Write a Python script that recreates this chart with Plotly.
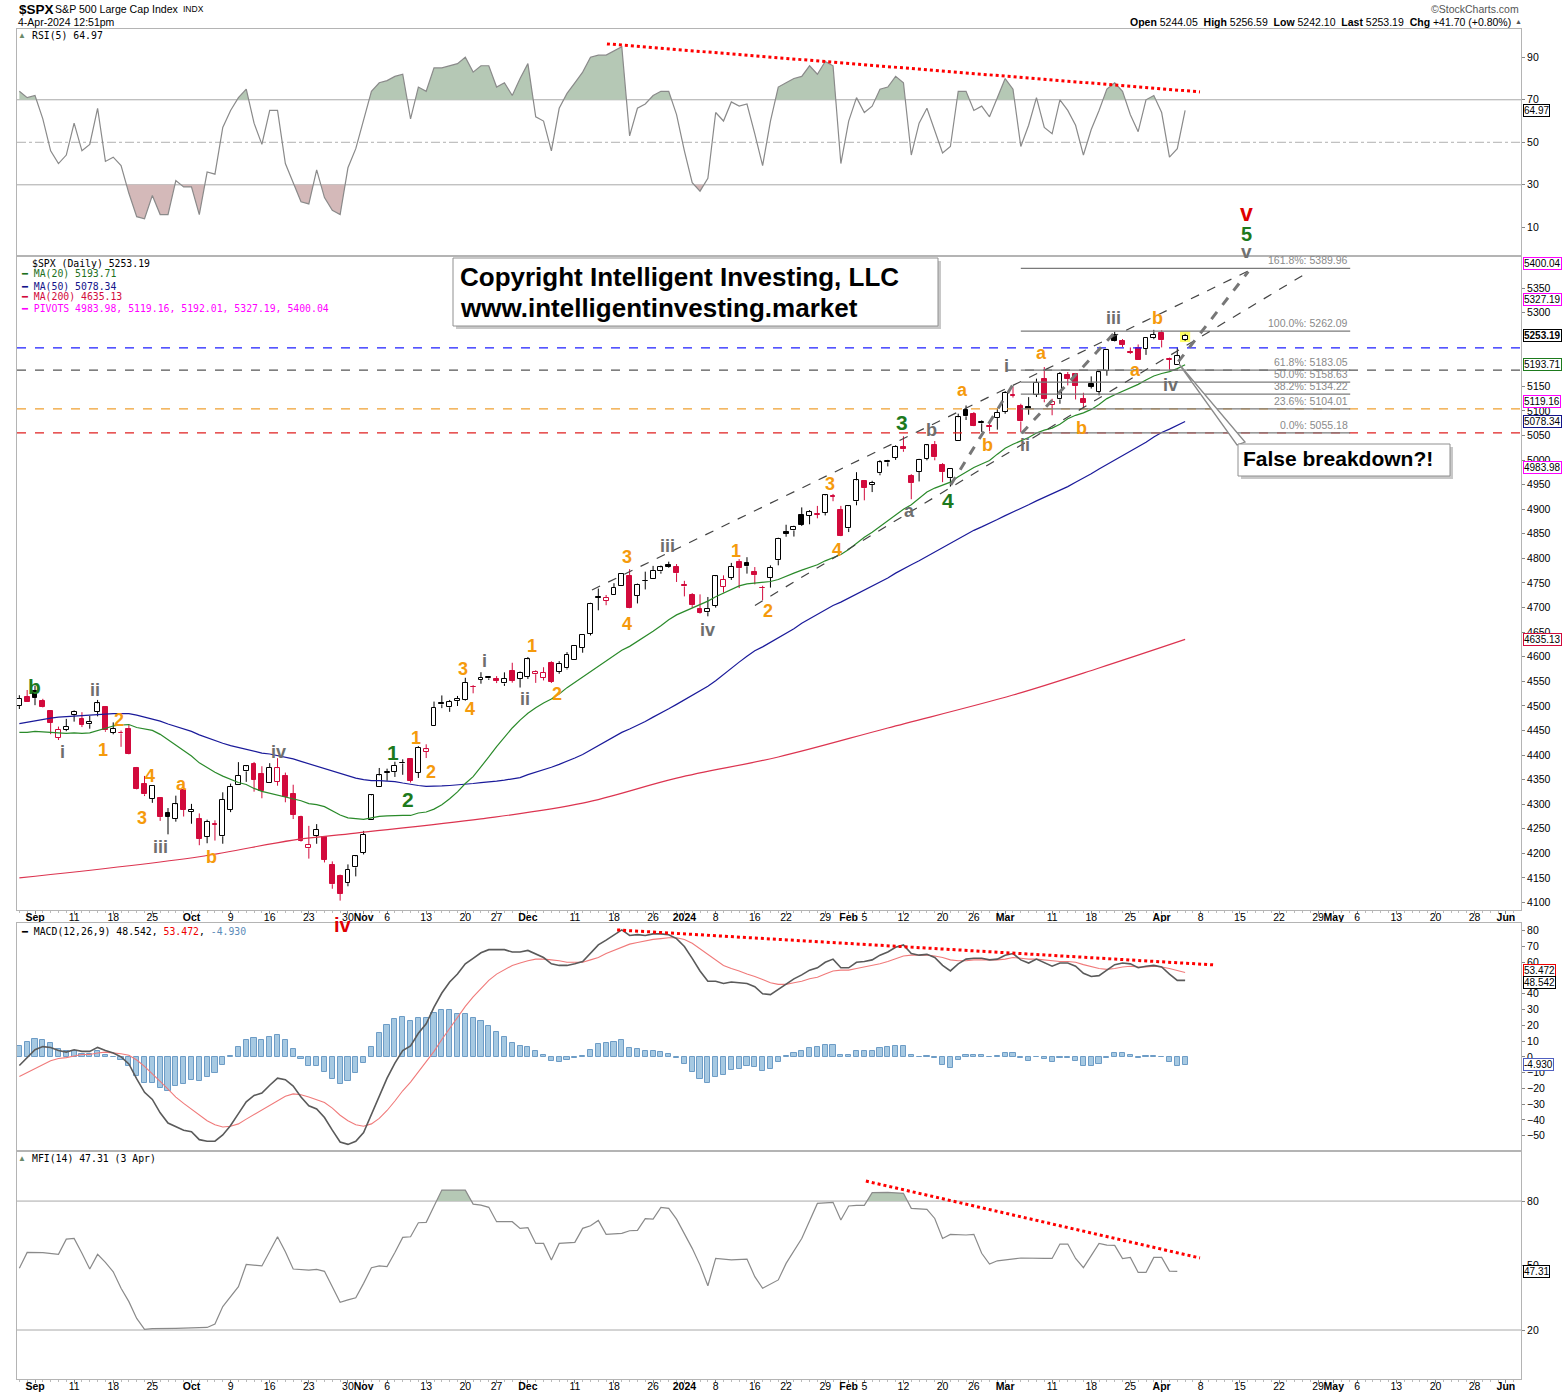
import pandas as pd
import plotly.graph_objects as go

W, H = 1565, 1396
HOLIDAYS = ["2023-09-04", "2023-11-23", "2023-12-25", "2024-01-01",
            "2024-01-15", "2024-02-19", "2024-03-29", "2024-05-27"]
CAL = [d.strftime("%Y-%m-%d") for d in pd.bdate_range("2023-08-30", "2024-06-14")
       if d.strftime("%Y-%m-%d") not in HOLIDAYS]

PREV_CLOSE = 4497.63
OPEN = [4500.34, 4517.01, 4530.60, 4510.06, 4490.35, 4434.55, 4451.30, 4480.98, 4473.27, 4462.65, 4487.78, 4497.98,
        4445.13, 4445.41, 4452.81, 4374.36, 4341.74, 4310.62, 4312.88, 4282.63, 4269.65, 4328.18,
        4284.52, 4269.75, 4233.83, 4259.31, 4234.79, 4289.02, 4339.75, 4366.59, 4380.94, 4360.49, 4342.37,
        4345.23, 4357.35, 4321.36, 4273.85, 4210.40, 4235.79, 4232.42, 4175.99, 4152.93, 4139.39, 4171.33,
        4201.27, 4268.26, 4334.23, 4364.27, 4366.21, 4384.37, 4391.41, 4364.15, 4406.66, 4458.97, 4505.30,
        4497.08, 4509.55, 4511.70, 4538.77, 4553.04, 4555.84, 4554.86, 4545.55, 4571.84, 4554.87,
        4559.43, 4564.37, 4557.25, 4586.23, 4568.84, 4576.20, 4593.39, 4618.30, 4646.20, 4721.04, 4714.23,
        4725.58, 4743.72, 4764.73, 4724.29, 4753.92, 4758.86, 4773.45, 4786.44, 4782.88,
        4745.20, 4725.07, 4697.42, 4690.57, 4703.70, 4741.93, 4759.94, 4792.13, 4791.18, 4772.35, 4739.13,
        4760.10, 4796.28, 4853.42, 4856.80, 4888.56, 4886.66, 4888.91, 4892.95, 4925.89, 4899.19,
        4861.11, 4916.06, 4957.19, 4950.16, 4973.05, 4995.16, 5004.17, 5026.83, 4967.94, 4976.44, 5003.14,
        5031.13, 4989.32, 4963.03, 5038.83, 5100.92, 5093.00, 5074.60, 5067.20, 5085.36,
        5098.51, 5130.99, 5110.52, 5108.03, 5132.38, 5164.46, 5111.96, 5123.31, 5173.49, 5175.14, 5123.31,
        5154.77, 5139.09, 5181.69, 5253.43, 5242.48, 5219.52, 5228.85, 5226.31, 5248.03,
        5257.97, 5204.29, 5194.37, 5244.05]
HIGH = [4521.65, 4532.26, 4541.25, 4514.29, 4490.35, 4457.81, 4473.53, 4490.77, 4487.11, 4479.39, 4511.99, 4497.98,
        4466.36, 4449.85, 4461.03, 4375.70, 4357.40, 4338.51, 4313.01, 4292.07, 4317.27, 4333.15,
        4300.58, 4281.15, 4268.50, 4267.13, 4324.10, 4341.73, 4385.46, 4378.64, 4385.85, 4377.10, 4383.33,
        4393.57, 4364.20, 4339.54, 4276.56, 4255.84, 4259.38, 4232.42, 4183.60, 4156.70, 4177.47, 4195.55,
        4245.64, 4319.72, 4373.62, 4372.21, 4386.26, 4391.20, 4393.40, 4418.03, 4421.76, 4508.67, 4521.17,
        4511.99, 4520.12, 4557.11, 4542.14, 4568.43, 4560.31, 4560.52, 4568.14, 4587.64, 4569.89,
        4599.39, 4572.37, 4578.56, 4590.74, 4590.92, 4609.23, 4623.71, 4643.93, 4709.69, 4738.57, 4725.53,
        4749.52, 4768.69, 4778.01, 4748.71, 4772.94, 4784.72, 4785.39, 4793.30, 4788.43,
        4754.33, 4729.29, 4726.78, 4721.49, 4764.54, 4765.47, 4790.80, 4798.50, 4802.40, 4782.34, 4744.23,
        4785.79, 4842.07, 4868.41, 4866.48, 4903.68, 4898.15, 4906.69, 4929.31, 4931.09, 4906.75,
        4906.97, 4975.29, 4957.19, 4957.77, 4999.89, 5000.40, 5030.06, 5048.39, 4971.30, 5002.52, 5032.72,
        5038.70, 4993.71, 4983.21, 5094.39, 5111.06, 5097.66, 5080.69, 5077.37, 5104.99,
        5140.33, 5149.67, 5114.54, 5127.97, 5165.62, 5189.26, 5124.66, 5179.14, 5179.14, 5176.85, 5136.86,
        5170.28, 5180.31, 5226.19, 5261.10, 5246.09, 5229.09, 5235.16, 5249.26, 5264.85,
        5263.95, 5208.34, 5228.75, 5256.59]
LOW = [4493.59, 4507.39, 4501.35, 4496.01, 4442.38, 4430.46, 4448.38, 4467.89, 4456.83, 4453.52, 4478.69, 4447.21,
       4442.11, 4416.61, 4401.38, 4329.17, 4316.49, 4302.70, 4265.98, 4238.63, 4264.38, 4274.86,
       4260.21, 4216.45, 4220.48, 4225.91, 4219.55, 4283.79, 4339.64, 4345.34, 4325.43, 4311.97, 4342.37,
       4337.54, 4303.84, 4269.69, 4223.03, 4189.22, 4219.43, 4181.42, 4127.90, 4103.78, 4132.94, 4153.12,
       4197.74, 4268.26, 4334.23, 4347.53, 4355.41, 4359.76, 4343.94, 4353.34, 4393.82, 4458.97, 4495.31,
       4487.83, 4499.66, 4510.36, 4525.51, 4545.05, 4552.80, 4546.32, 4540.51, 4547.15, 4537.24,
       4554.71, 4546.72, 4551.68, 4546.50, 4565.22, 4574.06, 4593.39, 4608.09, 4643.23, 4694.34, 4704.69,
       4725.58, 4743.72, 4697.82, 4708.35, 4736.77, 4758.45, 4768.90, 4780.98, 4751.99,
       4722.67, 4699.71, 4687.53, 4682.11, 4699.82, 4730.35, 4756.20, 4739.58, 4768.98, 4747.12, 4714.82,
       4740.57, 4785.87, 4844.05, 4844.37, 4865.94, 4869.34, 4881.47, 4887.40, 4916.27, 4845.15,
       4853.52, 4907.99, 4918.09, 4934.88, 4969.05, 4987.09, 5000.34, 5016.83, 4920.31, 4956.45, 4999.44,
       4999.52, 4955.02, 4946.00, 5038.83, 5081.46, 5068.91, 5057.29, 5058.35, 5061.89,
       5094.16, 5127.18, 5056.82, 5092.22, 5128.21, 5117.50, 5091.14, 5114.48, 5151.88, 5123.30, 5104.35,
       5145.47, 5131.59, 5171.55, 5240.66, 5229.87, 5216.09, 5203.42, 5213.92, 5245.82,
       5229.20, 5184.05, 5194.37, 5242.10]
CLOSE = [4514.87, 4507.66, 4515.77, 4496.83, 4465.48, 4451.14, 4457.49, 4487.46, 4461.90, 4467.44, 4505.10, 4450.32,
         4453.53, 4443.95, 4402.20, 4330.00, 4320.06, 4337.44, 4273.53, 4274.51, 4299.70, 4288.05,
         4288.39, 4229.45, 4263.75, 4258.19, 4308.50, 4335.66, 4358.24, 4376.95, 4349.61, 4327.78, 4373.63,
         4373.20, 4314.60, 4278.00, 4224.16, 4217.04, 4247.68, 4186.77, 4137.23, 4117.37, 4166.82, 4193.80,
         4237.86, 4317.78, 4358.34, 4365.98, 4378.38, 4382.78, 4347.35, 4415.24, 4411.55, 4495.70, 4502.88,
         4508.24, 4514.02, 4547.38, 4538.19, 4556.62, 4559.34, 4550.43, 4554.89, 4550.58, 4567.80,
         4594.63, 4569.78, 4567.18, 4549.34, 4585.59, 4604.37, 4622.44, 4643.70, 4707.09, 4719.55, 4719.19,
         4740.56, 4768.37, 4698.35, 4746.75, 4754.63, 4774.75, 4781.58, 4783.35, 4769.83,
         4742.83, 4704.81, 4688.68, 4697.24, 4763.54, 4756.50, 4783.45, 4780.24, 4783.83, 4765.98, 4739.21,
         4780.94, 4839.81, 4850.43, 4864.60, 4868.55, 4894.16, 4890.97, 4927.93, 4924.97, 4845.65,
         4906.19, 4958.61, 4942.81, 4954.23, 4995.06, 4997.91, 5026.61, 5021.84, 4953.17, 5000.62, 5029.73,
         5005.57, 4975.51, 4981.80, 5087.03, 5088.80, 5069.53, 5078.18, 5069.76, 5096.27,
         5137.08, 5130.95, 5078.65, 5104.76, 5157.36, 5123.69, 5117.94, 5175.27, 5165.31, 5150.48, 5117.09,
         5149.42, 5178.51, 5224.62, 5241.53, 5234.18, 5218.19, 5203.58, 5248.49, 5254.35,
         5243.77, 5205.81, 5211.49, 5253.19]

MA20 = [4446, 4446, 4448, 4447, 4445, 4445, 4444, 4445, 4444, 4445, 4450, 4454, 4459, 4461, 4462, 4456, 4453, 4450,
        4442, 4431, 4420, 4409, 4398, 4384, 4374, 4365, 4357, 4350, 4344, 4340, 4332, 4326, 4322, 4318, 4314, 4311,
        4307, 4301, 4299, 4295, 4287, 4278, 4272, 4270, 4269, 4272, 4275, 4276, 4277, 4277, 4277, 4282, 4284, 4290,
        4299, 4311, 4325, 4342, 4356, 4375, 4396, 4417, 4437, 4455, 4471, 4485, 4496, 4506, 4514, 4524, 4537, 4548,
        4559, 4570, 4581, 4591, 4602, 4613, 4621, 4631, 4641, 4652, 4663, 4675, 4685, 4692, 4699, 4705, 4713, 4722,
        4729, 4737, 4744, 4748, 4750, 4751, 4753, 4757, 4764, 4770, 4776, 4782, 4787, 4795, 4802, 4808, 4818, 4831,
        4843, 4853, 4865, 4876, 4888, 4900, 4909, 4922, 4935, 4943, 4949, 4955, 4966, 4976, 4985, 4992, 4999, 5012,
        5024, 5032, 5039, 5046, 5055, 5061, 5065, 5073, 5084, 5091, 5096, 5103, 5113, 5125, 5133, 5140, 5147, 5154,
        5163, 5171, 5176, 5180, 5186, 5193.71]
MA50 = [4464, 4467, 4470, 4472, 4475, 4477, 4478, 4480, 4480, 4481, 4482, 4483, 4484, 4484, 4484, 4481, 4477, 4474,
        4469, 4463, 4458, 4453, 4448, 4441, 4435, 4429, 4424, 4419, 4415, 4411, 4408, 4404, 4402, 4399, 4395, 4392,
        4387, 4382, 4377, 4372, 4367, 4362, 4357, 4353, 4350, 4348, 4348, 4347, 4346, 4343, 4340, 4338, 4336, 4336,
        4337, 4338, 4339, 4340, 4342, 4344, 4345, 4347, 4349, 4351, 4354, 4360, 4365, 4369, 4375, 4381, 4387, 4394,
        4401, 4410, 4419, 4429, 4437, 4446, 4453, 4460, 4468, 4477, 4485, 4494, 4503, 4512, 4522, 4531, 4540, 4551,
        4564, 4577, 4589, 4601, 4612, 4620, 4629, 4638, 4648, 4657, 4668, 4677, 4687, 4696, 4704, 4711, 4719, 4727,
        4735, 4743, 4752, 4760, 4770, 4779, 4787, 4795, 4804, 4813, 4822, 4830, 4839, 4849, 4857, 4864, 4871, 4879,
        4887, 4894, 4902, 4909, 4917, 4924, 4931, 4939, 4946, 4955, 4963, 4972, 4982, 4991, 5001, 5010, 5018, 5027,
        5036, 5047, 5056, 5063, 5071, 5078.34]
MA200_DATES = ["2023-08-30", "2023-10-03", "2023-10-19", "2023-10-31", "2023-11-22", "2023-12-12", "2023-12-29",
               "2024-01-19", "2024-02-08", "2024-03-04", "2024-03-19", "2024-04-04"]
MA200_V = [4150, 4193, 4227, 4241, 4270, 4302, 4353, 4396, 4455, 4522, 4577, 4635.13]

RSI = [74, 71, 72, 61, 46, 40, 44, 59, 46, 49, 66, 41, 43, 39, 26, 15, 14, 25, 16, 16, 32, 29, 29, 16, 36, 35, 57,
       65, 71, 75, 59, 49, 65, 65, 40, 31, 22, 21, 37, 24, 18, 16, 38, 47, 60, 74, 78, 79, 81, 82, 61, 76, 74, 85,
       85, 86, 87, 90, 83, 86, 86, 76, 78, 72, 80, 87, 62, 60, 46, 66, 73, 78, 83, 90, 91, 91, 93, 95, 53, 66, 68,
       72, 74, 74, 63, 46, 31, 27, 33, 64, 60, 69, 67, 68, 54, 39, 60, 76, 78, 80, 81, 86, 82, 88, 86, 40, 60, 71,
       64, 67, 75, 76, 81, 78, 44, 59, 66, 56, 45, 48, 74, 74, 65, 67, 62, 71, 80, 75, 48, 58, 71, 57, 54, 70, 65,
       58, 44, 56, 65, 75, 78, 74, 63, 55, 70, 72, 64, 43, 47, 64.97]
MACD = [-5.5, -0.5, 4.5, 6.5, 6, 4, 3, 4.5, 3.5, 3.5, 6, 4, 2.5, 0, -4.5, -14, -22.5, -27, -35.5, -42,
        -44, -46.5, -47.5, -52.5, -53.5, -53.5, -49.5, -43.5, -36, -28.5, -24.5, -23, -18, -13.5, -14.5, -18.5,
        -25.5, -31, -33, -38.5, -46.5, -54, -55.5, -53.5, -48, -36.5, -24, -13.5, -4, 4, 7, 15, 21, 31.5, 40.5,
        47.5, 52.5, 59, 62.5, 66, 68, 68, 68, 66.5, 66.5, 67.5, 65.5, 63, 59, 58, 58, 59, 60.5, 66, 71, 74, 77,
        80.5, 77, 77.5, 77, 78, 78, 77.5, 75, 70, 62.5, 54.5, 48, 48, 46.5, 47.5, 47, 46.5, 44.5, 40, 39.5, 43,
        46.5, 49.5, 52, 55, 56.5, 60, 62, 56.5, 56.5, 60, 60.5, 61.5, 64.5, 66.5, 69.5, 71, 65.5, 64.5, 65, 63,
        58, 54.5, 59, 62, 62.5, 62.5, 61.5, 62, 64.5, 65.5, 61.5, 59.5, 62, 60, 57.5, 59.5, 59.5, 57.5, 53, 51,
        51.5, 55, 58.5, 59.5, 59, 56.5, 57.5, 58, 57, 52.5, 48.5, 48.542]
SIGNAL = [-12.5, -10, -7, -4.5, -2.5, -1, -0.5, 0.5, 1.5, 1.5, 2.5, 3, 2.5, 2, 1, -2, -6, -10.5, -15.5, -20.5,
          -25.5, -29.5, -33, -37, -40.5, -43, -44.5, -44, -42.5, -39.5, -36.5, -34, -30.5, -27.5, -25, -23.5, -24,
          -25.5, -27, -29, -32.5, -37, -40.5, -43, -44, -42.5, -39, -34, -28, -21.5, -16, -9.5, -3.5, 3.5, 11, 18,
          25, 32, 38, 43.5, 48.5, 52.5, 55.5, 58, 59.5, 61, 62, 62, 61.5, 61, 60, 60, 60, 61.5, 63, 65.5, 67.5, 70,
          71.5, 72.5, 73.5, 74.5, 75, 75.5, 75.5, 74.5, 72, 68.5, 64.5, 61, 58, 56, 54.5, 52.5, 51, 49, 47, 46, 46,
          47, 48, 49.5, 50.5, 52.5, 54.5, 55, 55, 56, 57, 58, 59, 60.5, 62.5, 64, 64.5, 64.5, 64.5, 64, 63, 61.5,
          61, 61, 61.5, 61.5, 61.5, 61.5, 62, 63, 62.5, 62, 62, 61.5, 61, 60.5, 60.5, 60, 58.5, 57, 56, 55.5, 56,
          57, 57.5, 57, 57, 57.5, 57, 56, 54.5, 53.472]
HIST = [7, 9.5, 11.5, 11, 8.5, 5, 3.5, 4, 2, 2, 3.5, 1, 0, -2, -5.5, -12, -16.5, -16.5, -20, -21.5, -18.5, -17,
        -14.5, -15.5, -13, -10.5, -5, 0.5, 6.5, 11, 12, 11, 12.5, 14, 10.5, 5, -1.5, -5.5, -6, -9.5, -14, -17, -15,
        -10.5, -4, 6, 15, 20.5, 24, 25.5, 23, 24.5, 24.5, 28, 29.5, 29.5, 27.5, 27, 24.5, 22.5, 19.5, 15.5, 12.5,
        8.5, 7, 6.5, 3.5, 1, -2.5, -3, -2, -1, 0.5, 4.5, 8, 8.5, 9.5, 10.5, 5.5, 5, 3.5, 3.5, 3, 2, -0.5, -4.5,
        -9.5, -14, -16.5, -13, -11.5, -8.5, -7.5, -6, -6.5, -9, -7.5, -3, 0.5, 2.5, 4, 5.5, 6, 7.5, 7.5, 1.5, 1.5,
        4, 3.5, 3.5, 5.5, 6, 7, 7, 1, 0, 0.5, -1, -5, -7, -2, 1, 1, 1, 0, 0.5, 2.5, 2.5, -1, -2.5, 0, -1.5, -3.5,
        -1, -1, -2.5, -5.5, -6, -4.5, -0.5, 2.5, 2.5, 1.5, -0.5, 0.5, 0.5, 0, -3.5, -6, -4.93]

MFI_DATES_IDX = [0, 1, 3, 4, 5, 6, 7, 8, 9, 10, 11, 12, 13, 14, 15, 16, 17, 20, 22, 24, 25, 26, 28, 29, 31, 32, 33,
                 34, 35, 37, 38, 39, 40, 41, 42, 43, 44, 45, 46, 47, 48, 49, 50, 51, 52, 53, 54, 57, 58, 59, 60, 61,
                 63, 64, 65, 66, 67, 68, 69, 71, 72, 73, 74, 75, 77, 78, 79, 80, 81, 82, 83, 84, 86, 87, 88, 89, 91,
                 93, 94, 95, 96, 97, 98, 100, 102, 104, 105, 106, 107, 108, 109, 111, 113, 114, 116, 117, 118, 119,
                 121, 122, 123, 124, 125, 127, 128, 131, 132, 133, 134, 135, 136, 137, 138, 139, 140, 141, 142, 143,
                 144, 145, 146, 147, 148]
MFI_V = [48.7, 56.1, 56.0, 55.7, 55.2, 62.3, 62.6, 55.7, 48.4, 55.2, 51.5, 47.1, 39.4, 33.2, 25.4, 20.3, 20.6, 20.8,
         21.0, 21.2, 22.8, 30.9, 40.2, 50.5, 49.8, 56.4, 63.4, 56.4, 48.4,
         47.9, 48.2, 47.3, 40.2, 32.9, 34.0, 35.0, 41.7, 49.0, 49.8, 49.5, 56.1, 63.1, 63.4, 69.9, 70.1, 77.4, 85.1,
         85.1, 78.6, 78.1, 77.1, 70.4, 70.4, 67.3, 67.6, 60.3, 60.3, 52.6, 60.3, 60.8, 67.3, 68.5, 71.0, 64.5,
         65.0, 66.2, 66.4, 71.8, 71.6, 77.1, 76.6, 71.6, 58.0, 50.2, 40.6, 53.3, 52.6, 53.0, 44.8, 39.4, 41.2,
         43.3, 51.0, 62.6, 78.9, 79.4, 71.2, 77.7, 78.0, 78.0, 83.9, 84.0, 83.6, 76.6, 76.1, 71.9, 62.6, 64.5,
         64.2, 64.5, 55.7, 50.7, 52.2, 53.3, 53.5, 53.3, 53.3, 60.0, 60.0, 53.3, 49.0, 54.6, 60.3, 59.5, 59.4,
         53.2, 53.8, 46.8, 46.8, 53.8, 53.8, 47.4, 47.31]

TICK_DATES = ["2023-09-01", "2023-09-11", "2023-09-18", "2023-09-25", "2023-10-02", "2023-10-09", "2023-10-16",
              "2023-10-23", "2023-10-30", "2023-11-01", "2023-11-06", "2023-11-13", "2023-11-20", "2023-11-27",
              "2023-12-01", "2023-12-11", "2023-12-18", "2023-12-26", "2024-01-02", "2024-01-08", "2024-01-16",
              "2024-01-22", "2024-01-29", "2024-02-01", "2024-02-05", "2024-02-12", "2024-02-20", "2024-02-26",
              "2024-03-01", "2024-03-11", "2024-03-18", "2024-03-25", "2024-04-01", "2024-04-08", "2024-04-15",
              "2024-04-22", "2024-04-29", "2024-05-01", "2024-05-06", "2024-05-13", "2024-05-20", "2024-05-28",
              "2024-06-03"]
TICK_TEXT = ["<b>Sep</b>", "11", "18", "25", "<b>Oct</b>", "9", "16", "23", "30", "<b>Nov</b>", "6", "13", "20", "27",
             "<b>Dec</b>", "11", "18", "26", "<b>2024</b>", "8", "16", "22", "29", "<b>Feb</b>", "5", "12", "20", "26",
             "<b>Mar</b>", "11", "18", "25", "<b>Apr</b>", "8", "15", "22", "29", "<b>May</b>", "6", "13", "20", "28",
             "<b>Jun</b>"]

FIB_PCT = ["161.8%", "100.0%", "61.8%", "50.0%", "38.2%", "23.6%", "0.0%"]
FIB_VAL = [5389.96, 5262.09, 5183.05, 5158.63, 5134.22, 5104.01, 5055.18]
LEVELS = [5228.0, 5183.05, 5104.01, 5055.18]
PIVOTS = [4983.98, 5119.16, 5192.01, 5327.19, 5400.04]

WAVE_TEXT = ["b", "i", "ii", "2", "1", "4", "3", "a", "iii", "b", "iv", "1", "2", "1", "2", "3", "4", "i", "ii",
             "1", "2", "3", "4", "iii", "iv", "1", "2", "3", "4", "3", "a", "4", "b", "a", "b", "i", "ii", "a",
             "b", "iii", "b", "a", "iv"]
WAVE_X = [1.9, 5.5, 9.7, 12.7, 10.7, 16.7, 15.7, 20.7, 18.0, 24.6, 33.1, 47.8, 49.7, 50.7, 52.6, 56.7, 57.6, 59.4,
          64.6, 65.5, 68.7, 77.7, 77.7, 82.9, 87.9, 91.6, 95.7, 103.6, 104.5, 112.8, 113.8, 118.7, 116.6, 120.6,
          123.7, 126.2, 128.5, 130.7, 135.7, 139.9, 145.5, 142.6, 147.1]
WAVE_Y = [4540, 4406, 4532, 4471, 4410, 4358, 4272, 4341, 4213, 4193, 4406, 4406, 4309, 4435, 4366, 4575, 4494,
          4592, 4514, 4622, 4524, 4803, 4667, 4825, 4654, 4815, 4693, 4951, 4817, 5076, 4897, 4917, 5061, 5143,
          5031, 5191, 5031, 5218, 5065, 5289, 5289, 5183, 5153]
WAVE_KIND = ["G", "g", "g", "o", "o", "o", "o", "o", "g", "o", "g", "G", "G", "o", "o", "o", "o", "g", "g",
             "o", "o", "o", "o", "g", "g", "o", "o", "o", "o", "G", "g", "G", "g", "o", "o", "g", "g", "o",
             "o", "g", "o", "o", "g"]

N = len(CLOSE)
DATES = CAL[:N]
X = [CAL.index(d) for d in DATES]
TICK_X = [CAL.index(d) for d in TICK_DATES]
MA200_X = [CAL.index(d) for d in MA200_DATES]

# ---------------- styling ----------------
SANS = "Liberation Sans, Arial, sans-serif"
MONO = "DejaVu Sans Mono, monospace"
RED = "#d20a3c"
ORANGE = "#f59a0c"
GREY_W = "#6e6e6e"
GREEN_W = "#1d7a1d"
FRAME = "#b4b4b4"
XR = [-0.3, 191.93]
XD = [17 / W, 1521 / W]
PANELS = {"y": (29, 256, -3.5, 103.3), "y2": (256, 910, 4084.7, 5415.1),
          "y3": (923, 1151, -59.7, 84.9), "y4": (1151, 1379, -2.8, 103.3)}
PX_PER_X = (1521 - 17) / (XR[1] - XR[0])

def ydom(ax):
    t, b, lo, hi = PANELS[ax]
    return [1 - b / H, 1 - t / H]

def px_per_y(ax):
    t, b, lo, hi = PANELS[ax]
    return (b - t) / (hi - lo)

fig = go.Figure()
shapes, ann = [], []

def P(px):
    return px / W

def Q(py):
    return 1 - py / H

def text(x, y, s, size=10, color="black", xref="paper", yref="paper", xanchor="left", yanchor="middle",
         family=SANS, **kw):
    ann.append(dict(x=x, y=y, text=s, xref=xref, yref=yref, showarrow=False, xanchor=xanchor,
                    yanchor=yanchor, font=dict(size=size, color=color, family=family), **kw))

def seg(xa, ya, x0, y0, x1, y1, color, width=1, dash="solid", layer="above"):
    shapes.append(dict(type="line", xref=xa, yref=ya, x0=x0, y0=y0, x1=x1, y1=y1, layer=layer,
                       line=dict(color=color, width=width, dash=dash)))

def arrow(xa, ya, x0, y0, x1, y1, color, width, dash, head=1.2):
    seg(xa, ya, x0, y0, x1, y1, color, width, dash)
    dxp = (x1 - x0) * PX_PER_X
    dyp = -(y1 - y0) * px_per_y(ya)
    L = (dxp ** 2 + dyp ** 2) ** 0.5
    ann.append(dict(x=x1, y=y1, xref=xa, yref=ya, ax=-dxp / L * 6, ay=-dyp / L * 6, axref="pixel",
                    ayref="pixel", showarrow=True, arrowhead=2, arrowsize=head, arrowwidth=width,
                    arrowcolor=color, text=""))

def clip_fill(xs, ys, level, above=True):
    sgn = 1 if above else -1
    polys, cur = [], []
    for i in range(len(xs)):
        x, y = xs[i], ys[i]
        inside = sgn * (y - level) > 0
        if i > 0:
            xp, yp = xs[i - 1], ys[i - 1]
            inp = sgn * (yp - level) > 0
            if inside != inp:
                t = (level - yp) / (y - yp)
                cur.append((xp + t * (x - xp), level))
                if not inside:
                    polys.append(cur)
                    cur = []
        if inside:
            cur.append((x, y))
    if cur:
        polys.append(cur)
    fx, fy = [], []
    for p in polys:
        fx += [q[0] for q in p] + [p[-1][0], p[0][0], None]
        fy += [q[1] for q in p] + [level, level, None]
    return fx, fy

# ---------------- RSI panel ----------------
seg("x", "y", XR[0], 70, XR[1], 70, "#a8a8a8", 1, "solid", "below")
seg("x", "y", XR[0], 30, XR[1], 30, "#a8a8a8", 1, "solid", "below")
seg("x", "y", XR[0], 50, XR[1], 50, "#b0b0b0", 1, "dashdot", "below")
for lvl, above, col in [(70, True, "#b5c8b5"), (30, False, "#d4b9b9")]:
    fx, fy = clip_fill(X, RSI, lvl, above)
    fig.add_trace(go.Scatter(x=fx, y=fy, fill="toself", fillcolor=col, mode="lines", line=dict(width=0),
                             xaxis="x", yaxis="y", hoverinfo="skip", showlegend=False))
fig.add_trace(go.Scatter(x=X, y=RSI, mode="lines", line=dict(color="#8a8a8a", width=1.2), xaxis="x", yaxis="y",
                         hoverinfo="skip", showlegend=False))

# ---------------- price panel ----------------
prev = [PREV_CLOSE] + CLOSE[:-1]
shapes.append(dict(type="rect", xref="x2", yref="y2", x0=X[-1] - 0.65, x1=X[-1] + 0.65, y0=5240, y1=5262,
                   fillcolor="#ffff66", line=dict(width=0), layer="below"))
for colname, col in [("black", "black"), ("red", RED)]:
    wx, wy = [], []
    for i in range(N):
        if (colname == "red") != (CLOSE[i] < prev[i]):
            continue
        top = max(OPEN[i], CLOSE[i])
        bot = min(OPEN[i], CLOSE[i])
        wx += [X[i], X[i], None, X[i], X[i], None]
        wy += [HIGH[i], top, None, bot, LOW[i], None]
    fig.add_trace(go.Scatter(x=wx, y=wy, mode="lines", line=dict(color=col, width=1),
                             xaxis="x2", yaxis="y2", hoverinfo="skip", showlegend=False))
    for hollow in (True, False):
        bx, bb, bh = [], [], []
        for i in range(N):
            if (colname == "red") != (CLOSE[i] < prev[i]) or (CLOSE[i] >= OPEN[i]) != hollow:
                continue
            bx.append(X[i])
            bb.append(min(OPEN[i], CLOSE[i]))
            bh.append(max(abs(CLOSE[i] - OPEN[i]), 1.0))
        if bx:
            fig.add_trace(go.Bar(x=bx, y=bh, base=bb, width=0.62, xaxis="x2", yaxis="y2",
                                 marker=dict(color="white" if hollow else col, line=dict(color=col, width=1)),
                                 hoverinfo="skip", showlegend=False))

fig.add_trace(go.Scatter(x=MA200_X, y=MA200_V, mode="lines", line=dict(color="#dc3450", width=1.2, shape="spline"),
                         xaxis="x2", yaxis="y2", hoverinfo="skip", showlegend=False))
fig.add_trace(go.Scatter(x=X, y=MA50, mode="lines", line=dict(color="#1a1a9a", width=1.2),
                         xaxis="x2", yaxis="y2", hoverinfo="skip", showlegend=False))
fig.add_trace(go.Scatter(x=X, y=MA20, mode="lines", line=dict(color="#2a8a2a", width=1.2),
                         xaxis="x2", yaxis="y2", hoverinfo="skip", showlegend=False))

# horizontal levels (full width)
for v, col in zip(LEVELS, ["#1e1eff", "#555555", "#f0a030", "#e02020"]):
    seg("x2", "y2", XR[0], v, XR[1], v, col, 1.2, "dash")
# fibonacci projection
for pct, v in zip(FIB_PCT, FIB_VAL):
    seg("x2", "y2", 128.0, v, 170.1, v, "#7a7a7a", 1.2)
    text(170.1, v, f"{pct}: {v:.2f}", 10.5, "#8a8a8a", "x2", "y2", "right", "bottom")

# channel lines and projection arrows
seg("x2", "y2", 73.19, 4735.7, 157.93, 5391.4, "#444444", 1.2, "dash")
seg("x2", "y2", 94.02, 4704.2, 164.96, 5384.6, "#444444", 1.2, "dash")
arrow("x2", "y2", 119.04, 4949.3, 126.96, 5152.7, "#777777", 3, "dash")
arrow("x2", "y2", 128.11, 5054.5, 140.04, 5260.0, "#777777", 3, "dash")
arrow("x2", "y2", 148.13, 5200.1, 157.07, 5383.2, "#777777", 3, "dash")

# wave labels
KIND = {"G": (GREEN_W, 21), "g": (GREY_W, 18), "o": (ORANGE, 18)}
for t, x, y, k in zip(WAVE_TEXT, WAVE_X, WAVE_Y, WAVE_KIND):
    col, sz = KIND[k]
    text(x, y, f"<b>{t}</b>", sz, col, "x2", "y2", "center", "middle")
text(156.8, Q(213), "<b>v</b>", 23, "#e00000", "x2", "paper", "center", "middle")
text(156.8, Q(234), "<b>5</b>", 20, GREEN_W, "x2", "paper", "center", "middle")
text(156.8, Q(251), "<b>v</b>", 19, "#707070", "x2", "paper", "center", "middle")
text(41.4, Q(925), "<b>iv</b>", 20, "#e00000", "x2", "paper", "center", "middle")

# copyright box
shapes.append(dict(type="rect", xref="paper", yref="paper", x0=P(456), x1=P(941), y0=Q(329), y1=Q(261),
                   fillcolor="#c8c8c8", line=dict(width=0)))
shapes.append(dict(type="rect", xref="paper", yref="paper", x0=P(453), x1=P(938), y0=Q(326), y1=Q(258),
                   fillcolor="white", line=dict(color="#909090", width=1)))
text(P(458), Q(277), "<b>Copyright Intelligent Investing, LLC</b>", 26, "black")
text(P(458), Q(308), "<b>www.intelligentinvesting.market</b>", 26, "black")

# false breakdown callout
shapes.append(dict(type="path", xref="paper", yref="paper",
                   path=f"M {P(1179)},{Q(364)} L {P(1237)},{Q(445)} L {P(1245)},{Q(442)} Z",
                   fillcolor="white", line=dict(color="#8a8a8a", width=1.3)))
shapes.append(dict(type="rect", xref="paper", yref="paper", x0=P(1241), x1=P(1453), y0=Q(479), y1=Q(447),
                   fillcolor="#c8c8c8", line=dict(width=0)))
shapes.append(dict(type="rect", xref="paper", yref="paper", x0=P(1238), x1=P(1450), y0=Q(476), y1=Q(444),
                   fillcolor="white", line=dict(color="#909090", width=1)))
text(P(1241), Q(459), "<b>False breakdown?!</b>", 21, "black")

# ---------------- MACD panel ----------------
fig.add_trace(go.Bar(x=X, y=HIST, width=0.66, xaxis="x3", yaxis="y3",
                     marker=dict(color="#a6c9e2", line=dict(color="#6d9cc6", width=1)),
                     hoverinfo="skip", showlegend=False))
fig.add_trace(go.Scatter(x=X, y=SIGNAL, mode="lines", line=dict(color="#f07a7a", width=1.1), xaxis="x3",
                         yaxis="y3", hoverinfo="skip", showlegend=False))
fig.add_trace(go.Scatter(x=X, y=MACD, mode="lines", line=dict(color="#5a5a5a", width=1.6), xaxis="x3", yaxis="y3",
                         hoverinfo="skip", showlegend=False))

# ---------------- MFI panel ----------------
seg("x4", "y4", XR[0], 80, XR[1], 80, "#a8a8a8", 1, "solid", "below")
seg("x4", "y4", XR[0], 20, XR[1], 20, "#a8a8a8", 1, "solid", "below")
fx, fy = clip_fill(MFI_DATES_IDX, MFI_V, 80, True)
fig.add_trace(go.Scatter(x=fx, y=fy, fill="toself", fillcolor="#b5c8b5", mode="lines", line=dict(width=0),
                         xaxis="x4", yaxis="y4", hoverinfo="skip", showlegend=False))
fig.add_trace(go.Scatter(x=MFI_DATES_IDX, y=MFI_V, mode="lines", line=dict(color="#8a8a8a", width=1.2),
                         xaxis="x4", yaxis="y4", hoverinfo="skip", showlegend=False))

# divergence arrows
arrow("x", "y", 75.1, 96.3, 150.9, 73.7, "#ff0000", 3, "dot", 1.3)
arrow("x3", "y3", 76.4, 80.5, 152.8, 58.3, "#ff0000", 3, "dot", 1.3)
arrow("x4", "y4", 108.2, 89.3, 150.9, 53.5, "#ff0000", 3, "dot", 1.3)

# ---------------- legends / header ----------------
text(P(17), Q(9), "<b>$SPX</b>", 13.5, "black")
text(P(53), Q(9), "S&P 500 Large Cap Index", 10.6, "black")
text(P(181), Q(9.5), "INDX", 8.5, "black")
text(P(16), Q(22), "4-Apr-2024 12:51pm", 10.5, "black")
text(P(1521), Q(9), "©StockCharts.com", 10.5, "#555555", xanchor="right")
text(P(1513), Q(22), f"<b>Open</b> {OPEN[-1]:.2f}  <b>High</b> {HIGH[-1]:.2f}  <b>Low</b> {LOW[-1]:.2f}  "
     f"<b>Last</b> {CLOSE[-1]:.2f}  <b>Chg</b> +41.70 (+0.80%)", 10.5, "black", xanchor="right")
text(P(1518), Q(22), "▲", 7, "#555555", xanchor="center")
text(P(30), Q(35), f"RSI(5) {RSI[-1]:.2f}", 9.8, "black", family=MONO)
text(P(22), Q(35), "▲", 8, "#6a8a6a", xanchor="center")
text(P(30), Q(263), f"$SPX (Daily) {CLOSE[-1]:.2f}", 9.8, "black", family=MONO)
text(P(19), Q(274), f"━ MA(20) {MA20[-1]:.2f}", 9.8, "#1d701d", family=MONO)
text(P(19), Q(286), f"━ MA(50) {MA50[-1]:.2f}", 9.8, "#14148a", family=MONO)
text(P(19), Q(297), f"━ MA(200) {MA200_V[-1]:.2f}", 9.8, "#d20a3c", family=MONO)
text(P(19), Q(308), "━ PIVOTS " + ", ".join(f"{v:.2f}" for v in PIVOTS), 9.8, "#ff00ff", family=MONO)
text(P(19), Q(931), f"━ MACD(12,26,9) {MACD[-1]:.3f}, <span style='color:#ee0000'>{SIGNAL[-1]:.3f}</span>, "
     f"<span style='color:#5b8bb8'>{HIST[-1]:.3f}</span>", 9.8, "black", family=MONO)
text(P(30), Q(1158), f"MFI(14) {MFI_V[-1]:.2f} (3 Apr)", 9.8, "black", family=MONO)
text(P(22), Q(1158), "▲", 8, "#6a8a6a", xanchor="center")

# value flags on the right axis
def flag(yref, v, s, col, bold=False, shift=0):
    ann.append(dict(x=P(1523), y=v, xref="paper", yref=yref, text=f"<b>{s}</b>" if bold else s,
                    showarrow=False, xanchor="left", yanchor="middle", bgcolor="white", bordercolor=col,
                    borderwidth=1, borderpad=0, yshift=shift,
                    font=dict(size=10, color="black", family=SANS)))

flag("y", RSI[-1], f"{RSI[-1]:.2f}", "black")
price_flags = [(PIVOTS[4], "#ff00ff", False), (PIVOTS[3], "#ff00ff", False), (CLOSE[-1], "black", True),
               (MA20[-1], "#1d7a1d", False), (PIVOTS[1], "#ff00ff", False), (MA50[-1], "#14148a", False),
               (PIVOTS[0], "#ff00ff", False), (MA200_V[-1], "#d20a3c", False)]
for v, col, b in price_flags:
    flag("y2", v, f"{v:.2f}", col, b)
flag("y3", SIGNAL[-1], f"{SIGNAL[-1]:.3f}", "#ee0000", shift=2.5)
flag("y3", MACD[-1], f"{MACD[-1]:.3f}", "black", shift=-2.5)
flag("y3", HIST[-1], f"{HIST[-1]:.3f}", "#5060c0")
flag("y4", MFI_V[-1], f"{MFI_V[-1]:.2f}", "black")

# ---------------- axes ----------------
axfont = dict(size=10.5, color="black", family=SANS)

def xa(anchor, labels):
    return dict(domain=XD, range=XR, anchor=anchor, showgrid=False, zeroline=False, showline=True,
                mirror=True, linecolor=FRAME, linewidth=1, tickmode="array", tickvals=TICK_X,
                ticktext=TICK_TEXT, showticklabels=labels, ticks="outside" if labels else "", ticklen=3,
                tickcolor="#888", tickfont=axfont, tickangle=0, automargin=False, ticklabelstandoff=-6,
                minor=dict(tickmode="linear", tick0=0, dtick=1, ticks="outside" if labels else "", ticklen=2,
                           tickcolor="#bbb"))

def yax(anchor, ax, vals):
    t, b, lo, hi = PANELS[ax]
    return dict(domain=ydom(ax), range=[lo, hi], anchor=anchor, side="right", showgrid=False, zeroline=False,
                showline=True, mirror=True, linecolor=FRAME, linewidth=1, tickmode="array", tickvals=vals,
                ticks="outside", ticklen=3, tickcolor="#888", tickfont=axfont, automargin=False)

price_ticks = [v for v in range(4100, 5401, 50) if v not in (5200, 5250, 5400)]
macd_ticks = [v for v in range(-50, 81, 10) if v != 50]
fig.update_layout(
    width=W, height=H, margin=dict(l=0, r=0, t=0, b=0, autoexpand=False), paper_bgcolor="white",
    plot_bgcolor="white", barmode="overlay", showlegend=False, bargap=0,
    xaxis=xa("y", False), xaxis2=xa("y2", True), xaxis3=xa("y3", False), xaxis4=xa("y4", True),
    yaxis=yax("x", "y", [10, 30, 50, 70, 90]),
    yaxis2=yax("x2", "y2", price_ticks),
    yaxis3=yax("x3", "y3", macd_ticks),
    yaxis4=yax("x4", "y4", [20, 50, 80]),
    shapes=shapes, annotations=ann,
)
fig.write_html("out.html")
